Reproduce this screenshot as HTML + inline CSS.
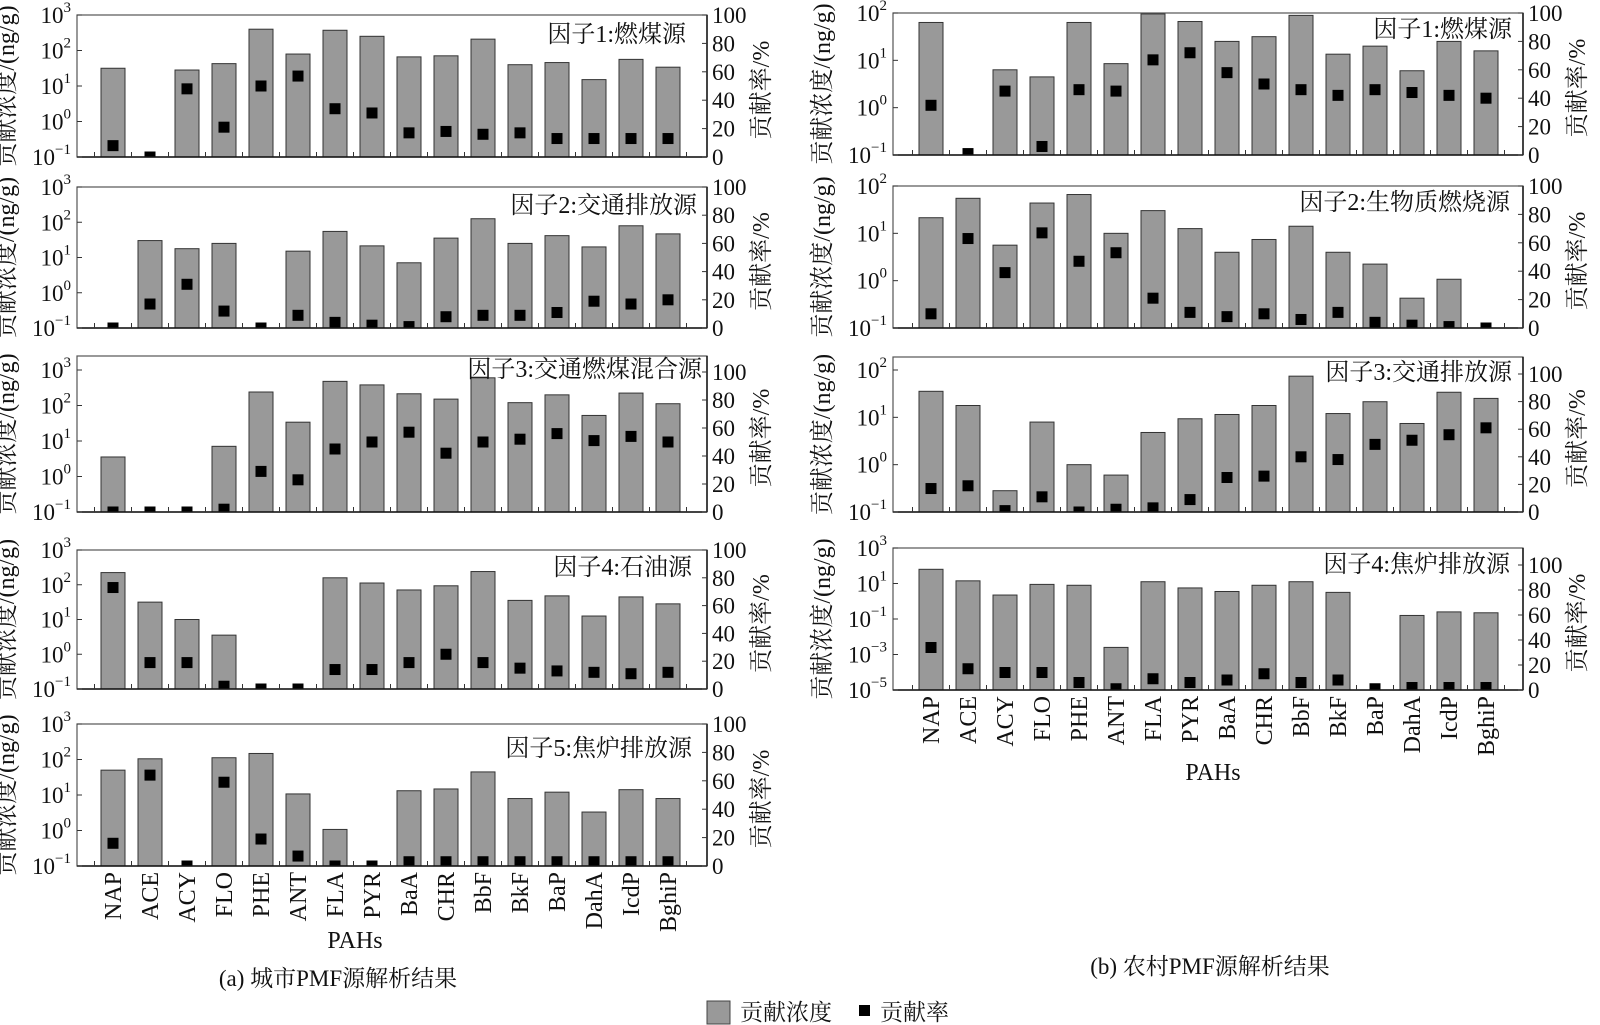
<!DOCTYPE html>
<html><head><meta charset="utf-8">
<style>
html,body{margin:0;padding:0;background:#fff;}
svg{display:block;}
text{font-family:"Liberation Serif","Noto Serif CJK SC",serif;fill:#111;}
</style></head>
<body>
<svg id="s" xmlns="http://www.w3.org/2000/svg" width="1600" height="1025" viewBox="0 0 1600 1025">
<text x="355" y="948" font-size="24" text-anchor="middle">PAHs</text>
<text x="338" y="986" font-size="23" text-anchor="middle">(a)  城市PMF源解析结果</text>
<text x="1213" y="780" font-size="24" text-anchor="middle">PAHs</text>
<text x="1210" y="974" font-size="23" text-anchor="middle">(b)  农村PMF源解析结果</text>
<rect x="707" y="1001" width="23" height="23" fill="#999" stroke="#444" stroke-width="1"/>
<text x="740" y="1020" font-size="23">贡献浓度</text>
<rect x="859" y="1005" width="11" height="11" fill="#000"/>
<text x="880" y="1020" font-size="23">贡献率</text>
</svg>
<script>
var NS="http://www.w3.org/2000/svg",S=document.getElementById('s');
function el(t,a,txt){var e=document.createElementNS(NS,t);for(var k in a)e.setAttribute(k,a[k]);if(txt!=null)e.textContent=txt;S.appendChild(e);return e;}
var names=["NAP","ACE","ACY","FLO","PHE","ANT","FLA","PYR","BaA","CHR","BbF","BkF","BaP","DahA","IcdP","BghiP"];
var N=null;
var panels=[
 {x0:77,x1:707,c0:113,ft:15,dt:15,b:157,lo:-1,hi:3,step:1,p100:15,t:"因子1:燃煤源",tx:686,ty:42,
  v:[1.5,N,1.45,1.63,2.6,1.9,2.57,2.4,1.82,1.85,2.32,1.6,1.66,1.18,1.75,1.53],
  p:[8,0,48,21,50,57,34,31,17,18,16,17,13,13,13,13]},
 {x0:77,x1:707,c0:113,ft:187,dt:187,b:328,lo:-1,hi:3,step:1,p100:187,t:"因子2:交通排放源",tx:697,ty:213,
  v:[N,1.48,1.25,1.4,N,1.18,1.74,1.33,0.85,1.55,2.1,1.4,1.62,1.3,1.9,1.67],
  p:[0,17,31,12,0,9,4,2,1,8,9,9,11,19,17,20]},
 {x0:77,x1:707,c0:113,ft:356,dt:370,b:512,lo:-1,hi:3,step:1,p100:372,t:"因子3:交通燃煤混合源",tx:702,ty:377,
  v:[0.55,N,N,0.85,2.38,1.53,2.68,2.58,2.33,2.18,2.78,2.08,2.3,1.72,2.35,2.05],
  p:[0,0,0,2,29,23,45,50,57,42,50,52,56,51,54,50]},
 {x0:77,x1:707,c0:113,ft:550,dt:550,b:689,lo:-1,hi:3,step:1,p100:550,t:"因子4:石油源",tx:692,ty:575,
  v:[2.35,1.5,1.0,0.55,N,N,2.2,2.05,1.85,1.97,2.38,1.55,1.68,1.1,1.65,1.45],
  p:[73,19,19,2,0,0,14,14,19,25,19,15,13,12,11,12]},
 {x0:77,x1:707,c0:113,ft:724,dt:724,b:866,lo:-1,hi:3,step:1,p100:724,t:"因子5:焦炉排放源",tx:692,ty:756,
  v:[1.7,2.02,N,2.05,2.17,1.03,0.03,N,1.12,1.17,1.65,0.9,1.08,0.52,1.15,0.9],
  p:[16,64,0,59,19,7,0,0,3,3,3,3,3,3,3,3]},
 {x0:893,x1:1523,c0:931,ft:13,dt:13,b:155,lo:-1,hi:2,step:1,p100:13,t:"因子1:燃煤源",tx:1512,ty:37,
  v:[1.8,N,0.8,0.65,1.8,0.93,1.98,1.82,1.4,1.5,1.95,1.13,1.3,0.78,1.4,1.2],
  p:[35,1,45,6,46,45,67,72,58,50,46,42,46,44,42,40]},
 {x0:893,x1:1523,c0:931,ft:186,dt:186,b:328,lo:-1,hi:2,step:1,p100:186,t:"因子2:生物质燃烧源",tx:1510,ty:210,
  v:[1.33,1.74,0.75,1.64,1.82,1.0,1.48,1.1,0.6,0.87,1.15,0.6,0.35,-0.37,0.03,N],
  p:[10,63,39,67,47,53,21,11,8,10,6,11,4,2,1,0]},
 {x0:893,x1:1523,c0:931,ft:357,dt:370,b:512,lo:-1,hi:2,step:1,p100:374,t:"因子3:交通排放源",tx:1512,ty:380,
  v:[1.55,1.25,-0.55,0.9,0.0,-0.22,0.68,0.97,1.06,1.25,1.87,1.08,1.33,0.87,1.53,1.4],
  p:[17,19,1,11,0,2,3,9,25,26,40,38,49,52,56,61]},
 {x0:893,x1:1523,c0:931,ft:548,dt:548,b:690,lo:-5,hi:3,step:2,p100:565,t:"因子4:焦炉排放源",tx:1510,ty:572,
  v:[1.8,1.15,0.35,0.95,0.9,-2.6,1.1,0.75,0.55,0.9,1.1,0.5,N,-0.8,-0.6,-0.65],
  p:[34,17,14,14,6,1,9,6,8,13,6,8,1,2,2,2]}
];
var cid=0;
panels.forEach(function(P){
  var W=37,yv=function(l){return P.b-(l-P.lo)/(P.hi-P.lo)*(P.b-P.dt);};
  var yp=function(p){return P.b-p/100*(P.b-P.p100);};
  cid++;
  var cp=el('clipPath',{id:'c'+cid});
  var r=document.createElementNS(NS,'rect');r.setAttribute('x',P.x0);r.setAttribute('y',P.ft);r.setAttribute('width',P.x1-P.x0);r.setAttribute('height',P.b-P.ft);cp.appendChild(r);
  P.v.forEach(function(v,i){ if(v==null)return; var cx=P.c0+W*i,y=yv(v);
    el('rect',{x:cx-12,y:y,width:24,height:P.b-y,fill:'#999',stroke:'#333','stroke-width':1});});
  P.p.forEach(function(p,i){var cx=P.c0+W*i,y=yp(p);
    el('rect',{x:cx-5.5,y:y-5.5,width:11,height:11,fill:'#000','clip-path':'url(#c'+cid+')'});});
  el('rect',{x:P.x0,y:P.ft,width:P.x1-P.x0,height:P.b-P.ft,fill:'none',stroke:'#555','stroke-width':1.2});
  el('line',{x1:P.x0,y1:P.b,x2:P.x1,y2:P.b,stroke:'#111','stroke-width':1.5});
  el('line',{x1:P.x1,y1:P.ft,x2:P.x1,y2:P.b,stroke:'#111','stroke-width':1.5});
  for(var i=0;i<=16;i++){var tx=P.c0-W/2+W*i; if(tx>P.x0&&tx<P.x1) el('line',{x1:tx,y1:P.b,x2:tx,y2:P.b-5,stroke:'#333','stroke-width':1});}
  for(var l=P.lo;l<=P.hi;l+=P.step){var y=yv(l);
    el('line',{x1:P.x0,y1:y,x2:P.x0+5,y2:y,stroke:'#333','stroke-width':1});
    var t=el('text',{x:P.x0-6,y:y+8,'font-size':23,'text-anchor':'end'});
    var a=document.createElementNS(NS,'tspan');a.textContent='10';t.appendChild(a);
    var b=document.createElementNS(NS,'tspan');b.setAttribute('dy','-11');b.setAttribute('font-size','15');b.textContent=(l<0?'\u2212'+(-l):''+l);t.appendChild(b);
  }
  for(var p=0;p<=100;p+=20){var y=yp(p);
    el('line',{x1:P.x1,y1:y,x2:P.x1-5,y2:y,stroke:'#333','stroke-width':1});
    el('text',{x:P.x1+5,y:y+8,'font-size':23},''+p);}
  var my=(P.ft+P.b)/2;
  var lx=P.x0-63;
  el('text',{x:lx,y:my,'font-size':24,'text-anchor':'middle',transform:'rotate(-90 '+lx+' '+my+')'},'贡献浓度/(ng/g)');
  var rx=P.x1+62;
  el('text',{x:rx,y:my+4,'font-size':24,'text-anchor':'middle',transform:'rotate(-90 '+rx+' '+(my+4)+')'},'贡献率/%');
  el('text',{x:P.tx,y:P.ty,'font-size':24,'text-anchor':'end'},P.t);
});
function xl(c0,y){names.forEach(function(n,i){var x=c0+37*i+8;
  el('text',{x:x,y:y,'font-size':24,'text-anchor':'end',transform:'rotate(-90 '+x+' '+y+')'},n);});}
xl(113,872);xl(931,696);
</script>
</body></html>
